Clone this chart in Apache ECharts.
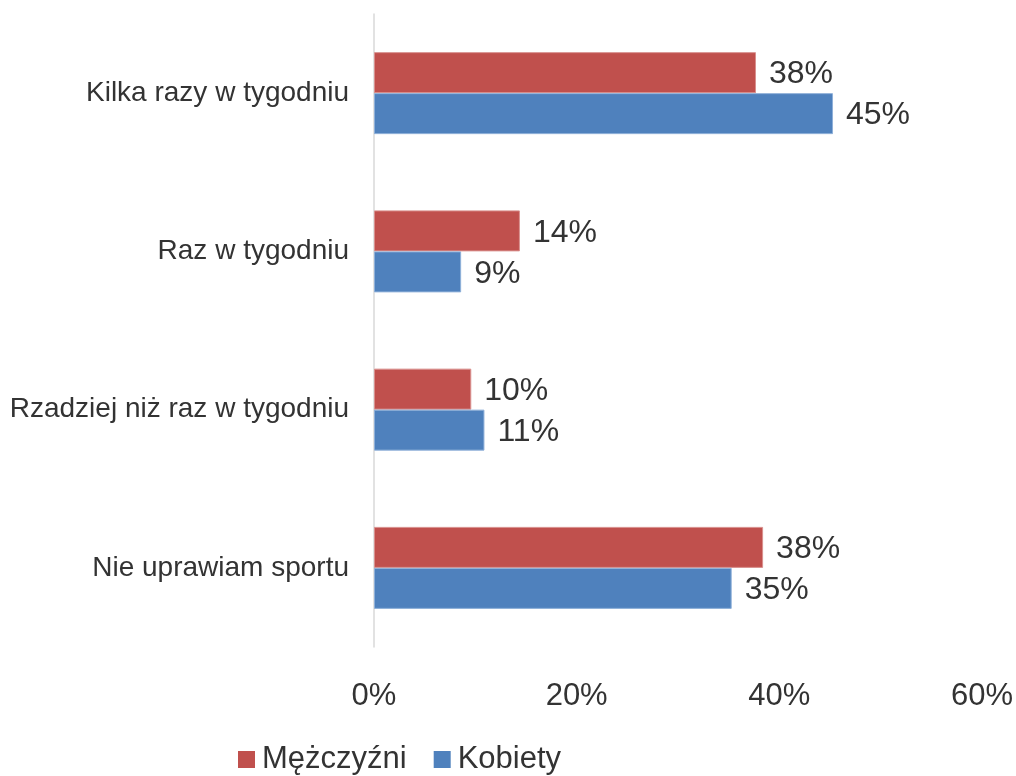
<!DOCTYPE html>
<html>
<head>
<meta charset="utf-8">
<script src="https://cdn.jsdelivr.net/npm/echarts@6/dist/echarts.min.js"></script>
<style>
  html, body { margin: 0; padding: 0; background: #fff; }
  #chart { width: 1016px; height: 776px; }
</style>
</head>
<body>
<div id="chart"></div>
<script>
// dane
var categories = ["Kilka razy w tygodniu", "Raz w tygodniu", "Rzadziej niż raz w tygodniu", "Nie uprawiam sportu"];
var seriesNames = ["Mężczyźni", "Kobiety"];
var menValues = [37.7, 14.4, 9.6, 38.4];
var womenValues = [45.3, 8.6, 10.9, 35.3];
var axisTicks = [0, 20, 40, 60];

var textColor = "#333333";
var fontName = "Liberation Sans, Arial, sans-serif";

var myChart = echarts.init(document.getElementById("chart"));

function makeSeries(name, values, color, border) {
    return {
        name: name,
        type: "bar",
        data: values,
        barWidth: 41,
        barGap: "0%",
        itemStyle: { color: color, borderColor: border, borderWidth: 1 },
        label: {
            show: true,
            position: "right",
            distance: 13,
            offset: [0, 2],
            color: textColor,
            fontFamily: fontName,
            fontSize: 32,
            formatter: function (p) { return Math.round(p.value) + "%"; }
        },
        emphasis: { disabled: true }
    };
}

myChart.setOption({
    animation: false,
    backgroundColor: "#ffffff",
    textStyle: { fontFamily: fontName },
    grid: { left: 374, right: 34, top: 14, bottom: 129, containLabel: false },
    legend: {
        data: seriesNames,
        left: 238,
        top: 744,
        padding: 0,
        itemWidth: 17,
        itemHeight: 17,
        itemGap: 27,
        icon: "rect",
        itemStyle: { borderWidth: 0 },
        textStyle: { color: textColor, fontSize: 31, fontFamily: fontName, padding: [0, 0, 0, 2] }
    },
    xAxis: {
        type: "value",
        min: axisTicks[0],
        max: axisTicks[axisTicks.length - 1],
        interval: axisTicks[1] - axisTicks[0],
        axisLine: { show: false },
        axisTick: { show: false },
        splitLine: { show: false },
        axisLabel: {
            color: textColor,
            fontSize: 31,
            fontFamily: fontName,
            margin: 34,
            formatter: "{value}%"
        }
    },
    yAxis: {
        type: "category",
        data: categories,
        inverse: true,
        axisLine: { show: true, lineStyle: { color: "#D9D9D9", width: 1.5 } },
        axisTick: { show: false },
        axisLabel: {
            color: textColor,
            fontSize: 28,
            fontFamily: fontName,
            margin: 25
        }
    },
    series: [
        makeSeries(seriesNames[0], menValues, "#C0504D", "#D9908E"),
        makeSeries(seriesNames[1], womenValues, "#4F81BD", "#8FB0D9")
    ]
});
</script>
</body>
</html>
